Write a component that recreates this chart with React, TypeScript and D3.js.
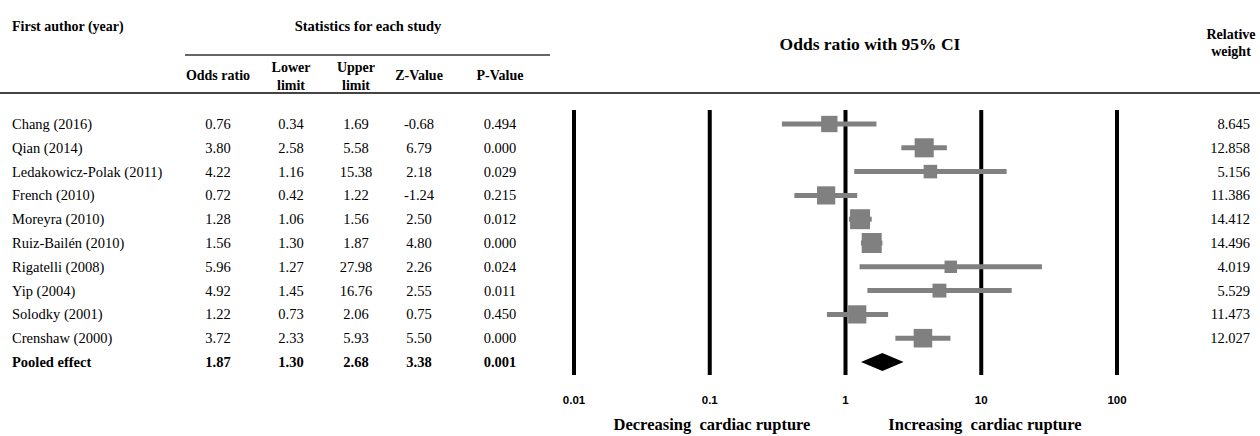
import * as d3 from 'd3';

const authors = [
  'Chang (2016)',
  'Qian (2014)',
  'Ledakowicz-Polak (2011)',
  'French (2010)',
  'Moreyra (2010)',
  'Ruiz-Bailén (2010)',
  'Rigatelli (2008)',
  'Yip (2004)',
  'Solodky (2001)',
  'Crenshaw (2000)',
];
const oddsRatios = [0.76, 3.8, 4.22, 0.72, 1.28, 1.56, 5.96, 4.92, 1.22, 3.72];
const lowerLimits = [0.34, 2.58, 1.16, 0.42, 1.06, 1.3, 1.27, 1.45, 0.73, 2.33];
const upperLimits = [1.69, 5.58, 15.38, 1.22, 1.56, 1.87, 27.98, 16.76, 2.06, 5.93];
const zValues = [-0.68, 6.79, 2.18, -1.24, 2.5, 4.8, 2.26, 2.55, 0.75, 5.5];
const pValues = [0.494, 0.0, 0.029, 0.215, 0.012, 0.0, 0.024, 0.011, 0.45, 0.0];
const weights = [8.645, 12.858, 5.156, 11.386, 14.412, 14.496, 4.019, 5.529, 11.473, 12.027];

const pooledLabel = 'Pooled effect';
const pooled = { or: 1.87, lower: 1.3, upper: 2.68, z: 3.38, p: 0.001 };

const tickValues = [0.01, 0.1, 1, 10, 100];
const tickLabels = ['0.01', '0.1', '1', '10', '100'];

const width = 1260;
const height = 436;
const serif = '"Liberation Serif", "Times New Roman", serif';
const sans = '"Liberation Sans", Arial, sans-serif';

export default function App() {
  const rows = [...authors, pooledLabel];
  const y = d3.scalePoint<string>().domain(rows).range([124, 362]);
  const x = d3.scaleLog().domain([0.01, 100]).range([574, 1117]);
  const boxSize = d3.scaleSqrt().domain([0, d3.max(weights) as number]).range([4, 20]);

  // table columns (centre x)
  const cols = [218, 291, 356, 419, 500];
  const f2 = (v: number) => v.toFixed(2);
  const f3 = (v: number) => v.toFixed(3);

  const cells = (vals: number[]) => [f2(vals[0]), f2(vals[1]), f2(vals[2]), f2(vals[3]), f3(vals[4])];
  const rowFont = 14.5;

  return (
    <svg width={width} height={height} style={{ position: 'absolute', left: 0, top: 0, background: '#fff' }}>
      <rect x={0} y={0} width={width} height={height} fill="#fff" />

      {/* header */}
      <g fontFamily={serif} fontWeight="bold" fontSize={14} fill="#000">
        <text x={12} y={31}>First author (year)</text>
        <text x={368} y={31} textAnchor="middle" fontSize={14.5}>Statistics for each study</text>
        <text x={cols[0]} y={80} textAnchor="middle">Odds ratio</text>
        <text x={cols[1]} y={72} textAnchor="middle">Lower</text>
        <text x={cols[1]} y={90} textAnchor="middle">limit</text>
        <text x={cols[2]} y={72} textAnchor="middle">Upper</text>
        <text x={cols[2]} y={90} textAnchor="middle">limit</text>
        <text x={cols[3]} y={80} textAnchor="middle">Z-Value</text>
        <text x={cols[4]} y={80} textAnchor="middle">P-Value</text>
        <text x={870} y={50} textAnchor="middle" fontSize={17.5}>Odds ratio with 95% CI</text>
        <text x={1231} y={39} textAnchor="middle">Relative</text>
        <text x={1231} y={56} textAnchor="middle">weight</text>
      </g>
      <line x1={185} x2={550} y1={55} y2={55} stroke="#333" strokeWidth={1.5} />
      <line x1={0} x2={width} y1={93} y2={93} stroke="#444" strokeWidth={2} />

      {/* vertical reference lines */}
      {tickValues.map((t) => (
        <line key={'v' + t} x1={x(t)} x2={x(t)} y1={110} y2={375} stroke="#000" strokeWidth={4} />
      ))}
      {tickValues.map((t, i) => (
        <text key={'t' + t} x={x(t)} y={404} textAnchor="middle" fontFamily={sans} fontWeight="bold" fontSize={11.5}>
          {tickLabels[i]}
        </text>
      ))}

      {/* study rows */}
      {authors.map((a, i) => {
        const cy = y(a) as number;
        const s = boxSize(weights[i]);
        const vals = cells([oddsRatios[i], lowerLimits[i], upperLimits[i], zValues[i], pValues[i]]);
        return (
          <g key={a}>
            <text x={12} y={cy + 5} fontFamily={serif} fontSize={rowFont}>{a}</text>
            {vals.map((v, j) => (
              <text key={j} x={cols[j]} y={cy + 5} textAnchor="middle" fontFamily={serif} fontSize={rowFont}>{v}</text>
            ))}
            <line x1={x(lowerLimits[i])} x2={x(upperLimits[i])} y1={cy} y2={cy} stroke="#808080" strokeWidth={5} />
            <rect x={x(oddsRatios[i]) - s / 2} y={cy - s / 2} width={s} height={s} fill="#808080" />
            <text x={1250} y={cy + 5} textAnchor="end" fontFamily={serif} fontSize={rowFont}>{f3(weights[i])}</text>
          </g>
        );
      })}

      {/* pooled row */}
      {(() => {
        const cy = y(pooledLabel) as number;
        const vals = cells([pooled.or, pooled.lower, pooled.upper, pooled.z, pooled.p]);
        const d = `M${x(pooled.lower)},${cy} L${x(pooled.or)},${cy - 9} L${x(pooled.upper)},${cy} L${x(pooled.or)},${cy + 9} Z`;
        return (
          <g>
            <text x={12} y={cy + 5} fontFamily={serif} fontWeight="bold" fontSize={rowFont}>{pooledLabel}</text>
            {vals.map((v, j) => (
              <text key={j} x={cols[j]} y={cy + 5} textAnchor="middle" fontFamily={serif} fontWeight="bold" fontSize={rowFont}>{v}</text>
            ))}
            <path d={d} fill="#000" />
          </g>
        );
      })()}

      {/* direction labels */}
      <g fontFamily={serif} fontWeight="bold" fontSize={16.5}>
        <text x={712} y={430} textAnchor="middle" xmlSpace="preserve" style={{ whiteSpace: 'pre' }}>Decreasing  cardiac rupture</text>
        <text x={985} y={430} textAnchor="middle" xmlSpace="preserve" style={{ whiteSpace: 'pre' }}>Increasing  cardiac rupture</text>
      </g>
    </svg>
  );
}
